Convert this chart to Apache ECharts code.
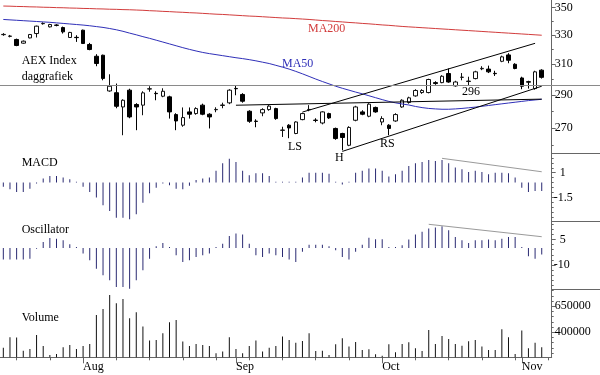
<!DOCTYPE html>
<html><head><meta charset="utf-8">
<script src="https://cdn.jsdelivr.net/npm/echarts@6/dist/echarts.min.js"></script>
<style>html,body{margin:0;padding:0;background:#fff}#c{width:600px;height:375px}</style>
</head><body><div id="c"></div>
<script>
// ---- data ----
const dates = [
 '2011-07-14','2011-07-15','2011-07-18','2011-07-19','2011-07-20','2011-07-21','2011-07-22','2011-07-25','2011-07-26','2011-07-27','2011-07-28','2011-07-29',
 '2011-08-01','2011-08-02','2011-08-03','2011-08-04','2011-08-05','2011-08-08','2011-08-09','2011-08-10','2011-08-11','2011-08-12',
 '2011-08-15','2011-08-16','2011-08-17','2011-08-18','2011-08-19','2011-08-22','2011-08-23','2011-08-24','2011-08-25','2011-08-26',
 '2011-08-29','2011-08-30','2011-08-31',
 '2011-09-01','2011-09-02','2011-09-05','2011-09-06','2011-09-07','2011-09-08','2011-09-09','2011-09-12','2011-09-13','2011-09-14','2011-09-15','2011-09-16',
 '2011-09-19','2011-09-20','2011-09-21','2011-09-22','2011-09-23','2011-09-26','2011-09-27','2011-09-28','2011-09-29','2011-09-30',
 '2011-10-03','2011-10-04','2011-10-05','2011-10-06','2011-10-07','2011-10-10','2011-10-11','2011-10-12','2011-10-13','2011-10-14',
 '2011-10-17','2011-10-18','2011-10-19','2011-10-20','2011-10-21','2011-10-24','2011-10-25','2011-10-26','2011-10-27','2011-10-28',
 '2011-10-31','2011-11-01','2011-11-02','2011-11-03','2011-11-04','2011-11-07'
];
const opens = [330.1,328.9,326.7,324.1,327.8,330.9,338.0,335.7,337.0,335.2,
 328.1,328.2,333.3,323.2,315.1,315.8,292.4,291.3,282.5,292.9,
 284.0,283.6,293.6,290.9,289.1,288.7,277.9,271.6,279.5,278.5,
 283.6,278.1,280.8,283.4,285.0,294.0,290.2,279.9,274.0,278.9,
 280.9,281.5,268.6,271.6,266.8,274.9,280.8,274.6,272.9,278.5,
 269.7,266.8,260.1,274.5,279.5,276.9,282.2,273.5,271.6,274.1,
 282.5,285.2,289.3,291.4,291.4,297.7,297.7,303.6,295.6,301.1,
 298.4,300.3,306.7,306.5,303.7,311.7,316.0,309.7,300.7,298.3,
 293.9,305.8];
const closes = [330.3,329.1,322.5,325.5,330.2,336.2,338.2,337.4,336.8,332.1,
 331.7,328.0,323.9,319.7,310.2,300.4,295.4,282.9,286.6,276.5,
 282.5,291.2,293.8,290.7,292.2,279.5,274.1,276.1,278.1,281.5,
 278.1,276.5,281.0,283.7,292.9,293.8,286.0,273.9,273.8,280.9,
 283.0,275.5,268.8,270.0,273.5,278.5,281.0,274.4,279.5,275.9,
 263.9,264.5,270.3,282.5,278.1,284.2,279.5,275.5,269.7,277.9,
 286.6,288.1,292.7,292.7,299.7,297.1,301.8,298.1,298.1,301.2,
 298.7,304.7,307.0,304.7,303.5,314.7,312.4,306.9,295.4,298.0,
 304.7,301.1];
const lows = [329.3,328.2,322.0,323.7,327.5,328.1,337.3,335.3,336.1,330.9,
 327.8,325.0,323.5,319.2,308.4,299.2,291.9,281.7,265.8,275.7,
 268.7,277.5,291.9,286.6,288.5,275.5,268.7,270.7,275.5,277.8,
 277.5,269.7,279.3,281.7,284.2,289.7,285.1,273.0,270.4,276.9,
 280.2,274.8,264.8,264.1,266.4,274.5,279.9,273.3,272.1,275.3,
 263.2,257.3,259.6,273.9,277.5,276.3,279.0,271.6,265.8,273.6,
 282.0,284.5,288.8,290.6,290.9,296.3,297.3,297.6,295.1,299.2,
 296.0,299.8,305.8,303.9,302.0,311.1,310.4,306.4,293.5,293.9,
 293.2,300.3];
const highs = [331.2,329.9,327.3,326.0,330.6,336.6,339.0,337.9,337.6,335.9,
 332.1,329.7,333.7,324.3,316.5,316.2,303.1,297.1,287.2,293.8,
 284.8,292.2,295.4,292.2,294.1,289.4,278.7,282.2,282.2,282.3,
 284.5,278.7,282.3,285.1,293.5,296.0,291.0,280.5,275.1,281.7,
 283.6,282.0,270.7,272.2,273.9,279.0,283.6,275.7,279.9,279.0,
 270.2,267.2,271.0,283.2,280.5,284.8,282.7,276.9,272.2,278.7,
 287.2,288.8,293.5,293.5,300.2,298.6,302.5,306.9,298.9,303.9,
 301.5,305.4,308.4,308.8,305.4,315.5,317.2,310.4,301.5,298.9,
 305.4,306.4];
const ma50 = [341.1,340.8,340.5,340.2,339.9,339.6,339.3,339.0,338.6,338.2,
 337.8,337.4,337.0,336.5,335.9,335.3,334.5,333.6,332.5,331.2,
 330.0,328.7,327.5,326.2,324.9,323.6,322.3,321.0,319.8,318.7,
 317.7,316.9,316.2,315.5,314.8,314.1,313.5,312.8,312.0,311.1,
 310.2,309.0,307.8,306.5,305.0,303.4,301.7,300.0,298.4,296.9,
 295.4,294.1,292.9,291.7,290.6,289.4,288.2,287.0,285.9,285.0,
 284.3,283.7,282.8,282.1,281.6,281.3,281.1,281.1,281.3,281.6,
 282.0,282.4,282.9,283.4,283.9,284.4,284.9,285.4,285.9,286.4,
 286.8,287.2];
const ma200 = [351.1,351.0,350.8,350.7,350.5,350.4,350.2,350.1,349.9,349.8,
 349.6,349.5,349.3,349.2,349.0,348.9,348.7,348.6,348.4,348.3,
 348.1,347.9,347.6,347.4,347.1,346.9,346.6,346.4,346.1,345.9,
 345.6,345.3,345.0,344.8,344.5,344.2,343.9,343.6,343.4,343.1,
 342.8,342.5,342.2,342.0,341.7,341.4,341.1,340.7,340.3,340.0,
 339.6,339.3,338.9,338.6,338.2,337.9,337.5,337.1,336.8,336.4,
 336.0,335.7,335.4,335.1,334.8,334.5,334.2,333.9,333.6,333.3,
 333.0,332.7,332.4,332.1,331.8,331.5,331.2,330.9,330.6,330.3,
 330.0,329.7];
const macd = [-0.41,-0.68,-0.94,-0.94,-0.61,-0.1,0.41,0.68,0.68,0.51,
 0.33,0.1,-0.41,-0.94,-1.52,-2.30,-2.87,-3.55,-3.55,-3.72,
 -3.21,-2.03,-1.08,-0.51,-0.1,-0.27,-0.61,-0.68,-0.33,0.27,
 0.41,0.51,1.19,1.96,2.43,2.10,1.19,0.74,0.94,0.94,
 0.68,0.1,0.1,0.1,0.1,0.51,1.01,1.01,1.01,0.91,
 0.1,-0.2,0.1,1.01,1.19,1.42,1.42,1.19,0.61,0.84,
 1.19,1.69,1.96,2.10,2.30,2.20,2.30,1.96,1.52,1.35,
 1.08,1.19,1.08,0.84,1.01,1.01,0.94,0.51,-0.51,-0.94,
 -0.84,-0.84];
const osc = [-6.8,-6.8,-6.8,-6.8,-6.3,-0.5,3.5,5.8,5.4,4.5,
 2.2,0.5,-3.3,-7.2,-12.1,-16.0,-18.9,-22.8,-22.8,-23.8,
 -18.9,-13.0,-6.3,1.0,2.9,0.5,-4.3,-8.2,-7.2,-5.3,
 -4.3,-3.3,0.5,2.5,7.0,8.4,7.8,2.5,-4.3,-5.3,
 -3.3,-4.3,-5.3,-6.8,-8.2,-2.3,1.9,1.9,1.9,1.0,
 -1.3,-5.3,-6.8,-2.3,1.9,6.0,5.1,5.1,0.5,0.5,
 1.6,4.9,7.8,9.4,11.3,11.9,12.7,10.4,6.4,4.5,
 2.9,4.5,4.5,4.9,4.5,5.4,6.4,6.4,0.5,-4.9,
 -6.3,-3.9];
const volume = [253000,352000,350000,224000,240000,374000,269000,182000,192000,256000,
 278000,240000,269000,288000,567000,624000,759000,679000,720000,535000,
 593000,455000,321000,326000,391000,497000,519000,311000,269000,288000,
 278000,269000,198000,215000,352000,240000,198000,269000,321000,215000,
 253000,269000,359000,326000,301000,317000,391000,221000,224000,182000,
 285000,343000,263000,307000,230000,237000,189000,174000,285000,208000,
 288000,304000,247000,221000,422000,288000,365000,336000,288000,272000,
 314000,326000,263000,230000,230000,429000,352000,192000,417000,247000,
 301000,256000];
const monthNames = {7:'Jul', 8:'Aug', 9:'Sep', 10:'Oct', 11:'Nov'};
const priceTicks = [270, 290, 310, 330, 350];
const priceMinor = [260, 280, 300, 320, 340];
const macdTicks = [1, -1.5];
const macdMinor = [-3.5,-3,-2.5,-2,-1,-0.5,0,0.5,1.5,2,2.5];
const oscTicks = [5, -10];
const oscMinor = [-22,-19,-16,-13,-7,-4,-1,2,8,11,14];
const volTicks = [650000, 400000];
const volMinor = [200000,250000,300000,350000,450000,500000,550000,600000,700000,750000,800000];
const supportLevel = 296;
const neckline = [[35, 283.55], [81, 287.3]];
const channelUpper = [[45, 279.4], [80, 324.0]];
const channelLower = [[51, 256.7], [81, 295.4]];
const macdDivergence = [[66, 2.46], [81, 1.10]];
const oscDivergence = [[64, 13.8], [81, 6.55]];

// ---- chart ----
const FONT = 'Liberation Serif';
const AX = '#666';
const ohlc = opens.map((o, i) => [o, closes[i], lows[i], highs[i]]);
const isMonthStart = i => i > 0 && dates[i].slice(5, 7) !== dates[i - 1].slice(5, 7);
const isMonday = i => new Date(dates[i] + 'T00:00:00Z').getUTCDay() === 1;

const GL = -1.33, GW = 553.03;
const grids = [
  {left: GL, width: GW, top: 0, height: 153.3},
  {left: GL, width: GW, top: 153.3, height: 68},
  {left: GL, width: GW, top: 221.3, height: 68.2},
  {left: GL, width: GW, top: 289.5, height: 67.8}
];
function hiddenX(g) {
  return {type: 'category', gridIndex: g, data: dates, boundaryGap: true,
    axisLine: {show: false}, axisTick: {show: false}, axisLabel: {show: false}, splitLine: {show: false}};
}
function yPair(g, type, min, max, ticks, minor, fmt, margin) {
  const base = {gridIndex: g, type: type, min: min, max: max, position: 'right', splitLine: {show: false}};
  if (type === 'log') base.logBase = 10;
  return [
    Object.assign({}, base, {
      axisLine: {show: true, lineStyle: {color: AX, width: 1}},
      axisTick: {show: true, customValues: ticks, length: 4, lineStyle: {color: AX}},
      axisLabel: {show: true, customValues: ticks, margin: margin, color: '#000',
        fontFamily: FONT, fontSize: 12, formatter: fmt}
    }),
    Object.assign({}, base, {
      axisLine: {show: false},
      axisTick: {show: true, customValues: minor, length: 2, lineStyle: {color: AX}},
      axisLabel: {show: false}
    })
  ];
}
const signFmt = v => (v > 0 ? '  ' : '') + v;
const plainFmt = v => String(v);

const option = {
  animation: false,
  backgroundColor: '#fff',
  grid: grids,
  xAxis: [
    hiddenX(0), hiddenX(1), hiddenX(2),
    {type: 'category', gridIndex: 3, data: dates, boundaryGap: true,
      axisLine: {show: true, lineStyle: {color: AX}},
      axisTick: {show: true, alignWithLabel: true, length: 3, interval: (i) => isMonday(i), lineStyle: {color: AX}},
      axisLabel: {show: false}, splitLine: {show: false}},
    {type: 'category', gridIndex: 3, data: dates, boundaryGap: true, position: 'bottom',
      axisLine: {show: false},
      axisTick: {show: true, alignWithLabel: true, length: 6, interval: (i) => isMonthStart(i), lineStyle: {color: AX}},
      axisLabel: {show: true, interval: (i) => isMonthStart(i), align: 'left', margin: 4,
        color: '#000', fontFamily: FONT, fontSize: 12,
        formatter: v => monthNames[+v.slice(5, 7)]},
      splitLine: {show: false}}
  ],
  yAxis: [].concat(
    yPair(0, 'log', 255.65, 355.7, priceTicks, priceMinor, plainFmt, 3),
    yPair(1, 'value', -3.92, 2.97, macdTicks, macdMinor, signFmt, 2),
    yPair(2, 'value', -24.3, 15.56, oscTicks, oscMinor, signFmt, 2),
    yPair(3, 'value', 160000, 811900, volTicks, volMinor, plainFmt, 3)
  ),
  series: [
    {type: 'candlestick', xAxisIndex: 0, yAxisIndex: 0, data: ohlc, barWidth: 4,
      itemStyle: {color: '#fff', color0: '#000', borderColor: '#111', borderColor0: '#000', borderWidth: 1},
      markLine: {silent: true, symbol: ['none', 'none'], label: {show: false},
        lineStyle: {type: 'solid', width: 1, color: '#000'},
        data: [
          [{coord: neckline[0]}, {coord: neckline[1]}],
          [{coord: channelUpper[0]}, {coord: channelUpper[1]}],
          [{coord: channelLower[0]}, {coord: channelLower[1]}],
          [{x: 0, yAxis: supportLevel, lineStyle: {color: '#8a8a8a'}}, {x: 600, yAxis: supportLevel}]
        ]}},
    {type: 'line', xAxisIndex: 0, yAxisIndex: 0, data: ma200, symbol: 'none', silent: true,
      lineStyle: {color: '#d23c3c', width: 1}},
    {type: 'line', xAxisIndex: 0, yAxisIndex: 0, data: ma50, symbol: 'none', silent: true,
      lineStyle: {color: '#2f2fb8', width: 1}},
    {type: 'bar', xAxisIndex: 1, yAxisIndex: 2, data: macd, barWidth: 1,
      itemStyle: {color: '#2a2a72'},
      markLine: {silent: true, symbol: ['none', 'none'], label: {show: false},
        lineStyle: {type: 'solid', width: 1, color: '#9a9a9a'},
        data: [[{coord: macdDivergence[0]}, {coord: macdDivergence[1]}]]}},
    {type: 'bar', xAxisIndex: 2, yAxisIndex: 4, data: osc, barWidth: 1,
      itemStyle: {color: '#2a2a72'},
      markLine: {silent: true, symbol: ['none', 'none'], label: {show: false},
        lineStyle: {type: 'solid', width: 1, color: '#9a9a9a'},
        data: [[{coord: oscDivergence[0]}, {coord: oscDivergence[1]}]]}},
    {type: 'bar', xAxisIndex: 3, yAxisIndex: 6, data: volume, barWidth: 1, clip: true,
      itemStyle: {color: '#111'}}
  ],
  graphic: [
    ...[153.5, 221.5, 289.5].map(y => ({type: 'line', silent: true,
      shape: {x1: 551.7, y1: y, x2: 600, y2: y}, style: {stroke: AX, lineWidth: 1}})),
    ...[
      ['AEX Index', 21.7, 60.5, '#000'],
      ['daggrafiek', 21.7, 76.5, '#000'],
      ['MA200', 308, 29, '#d23c3c'],
      ['MA50', 282, 64, '#2f2fb8'],
      ['LS', 288, 147, '#000'],
      ['H', 335, 158, '#000'],
      ['RS', 380, 144, '#000'],
      ['296', 462, 91.5, '#000'],
      ['MACD', 21.7, 163, '#000'],
      ['Oscillator', 21.7, 229.5, '#000'],
      ['Volume', 21.7, 318, '#000']
    ].map(t => ({type: 'text', silent: true, x: t[1], y: t[2], z: 100,
      style: {text: t[0], fill: t[3], font: '12px "' + FONT + '"', verticalAlign: 'middle', align: 'left'}}))
  ]
};
const chart = echarts.init(document.getElementById('c'), null, {renderer: 'canvas'});
chart.setOption(option);
</script>
</body></html>
